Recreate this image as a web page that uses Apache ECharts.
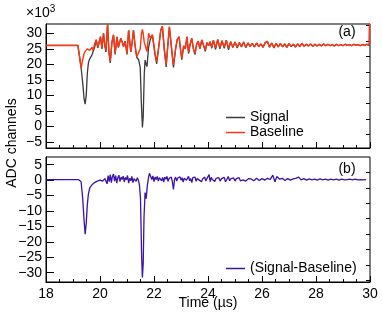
<!DOCTYPE html>
<html><head><meta charset="utf-8">
<script src="https://cdn.jsdelivr.net/npm/echarts@6/dist/echarts.min.js"></script>
<style>html,body{margin:0;padding:0;background:#fff}#c{width:382px;height:313px}</style>
</head><body><div id="c"></div>
<script>
// ---- data ----
const timeTop = [18.00,19.18,19.25,19.30,19.36,19.41,19.45,19.49,19.53,19.57,19.62,19.70,19.74,19.80,19.86,19.92,19.97,20.02,20.07,20.13,20.18,20.22,20.28,20.33,20.38,20.44,20.50,20.56,20.63,20.68,20.72,20.77,20.83,20.87,20.93,21.00,21.06,21.14,21.19,21.24,21.30,21.36,21.43,21.49,21.53,21.57,21.60,21.64,21.67,21.71,21.74,21.80,21.86,21.94,22.04,22.10,22.18,22.25,22.31,22.38,22.45,22.51,22.57,22.64,22.72,22.80,22.86,22.93,22.98,23.03,23.10,23.16,23.22,23.28,23.34,23.40,23.46,23.52,23.58,23.64,23.70,23.77,23.84,23.90,23.96,24.02,24.08,24.14,24.20,24.28,24.36,24.44,24.52,24.60,24.68,24.76,24.84,24.92,25.00,25.08,25.16,25.24,25.32,25.40,25.48,25.56,25.64,25.72,25.80,25.88,25.96,26.04,26.12,26.20,26.28,26.36,26.44,26.52,26.60,26.68,26.76,26.84,26.92,27.00,27.08,27.16,27.24,27.32,27.40,27.48,27.56,27.64,27.72,27.80,27.88,27.96,28.04,28.12,28.20,28.28,28.36,28.44,28.52,28.60,28.68,28.76,28.84,28.92,29.00,29.08,29.16,29.24,29.32,29.40,29.48,29.56,29.64,29.72,29.80,29.88,29.96,30.00];
const baseline = [26.1,26.1,22.0,18.8,21.5,23.5,24.2,24.6,25.0,25.2,24.5,25.5,24.5,26.5,28.0,25.5,25.2,28.9,25.2,30.0,26.0,24.5,33.0,24.0,21.0,27.0,29.5,23.6,28.9,25.5,25.2,28.4,27.0,25.7,27.5,23.6,31.0,24.1,27.0,31.0,26.0,22.5,22.0,25.0,29.5,31.3,30.0,27.0,26.3,25.0,24.1,30.0,28.5,29.5,23.6,20.8,26.0,31.0,32.3,25.0,19.8,26.0,32.1,26.0,19.8,25.0,28.0,28.9,25.0,22.0,26.0,25.0,28.9,24.1,26.5,28.4,25.0,23.6,26.5,27.5,25.0,27.9,26.0,24.6,27.0,26.0,27.3,25.5,27.8,25.3,28.0,25.4,27.6,25.6,27.8,25.2,27.3,25.6,27.2,25.5,27.0,25.8,27.2,25.5,26.9,25.8,26.8,25.6,26.9,25.7,26.6,25.5,27.0,27.4,25.6,26.9,25.4,26.8,25.6,26.7,25.7,26.6,25.5,26.7,25.8,26.5,25.6,26.6,25.7,26.8,25.8,26.5,25.9,26.6,25.8,26.5,25.9,26.5,25.9,26.6,26.0,26.5,26.0,26.4,25.9,26.5,26.0,26.4,26.0,26.5,26.1,26.4,26.0,26.5,26.1,26.4,26.0,26.4,26.1,26.5,26.1,40.0];
const signal = [26.1,26.1,22.0,19.0,14.0,9.0,7.2,10.0,17.0,20.5,21.8,23.0,24.0,25.5,27.8,25.3,25.0,28.9,25.0,30.0,26.0,24.0,33.0,24.0,20.5,27.0,29.5,23.2,28.9,25.5,25.0,28.4,27.0,25.7,27.5,23.2,31.0,24.0,27.0,31.0,26.0,22.3,21.5,19.0,8.0,-0.3,3.0,17.0,21.4,20.0,19.3,25.5,28.0,29.5,23.0,20.2,26.0,31.0,32.3,25.0,19.2,26.0,32.1,26.0,19.0,25.0,28.0,28.9,25.0,21.5,26.0,25.0,28.9,23.5,26.5,28.4,25.0,23.2,26.5,27.5,25.0,27.9,26.0,24.2,27.0,26.0,27.3,25.2,27.8,24.8,28.0,25.0,27.6,25.2,27.8,24.7,27.3,25.4,27.2,25.3,27.0,25.6,27.2,25.4,26.9,25.8,26.8,25.6,26.9,25.7,26.6,25.5,27.0,27.4,25.5,26.9,25.3,26.8,25.6,26.7,25.6,26.6,25.5,26.7,25.7,26.5,25.6,26.6,25.7,26.8,25.8,26.5,25.9,26.6,25.8,26.5,25.9,26.5,25.9,26.6,26.0,26.5,26.0,26.4,25.9,26.5,26.0,26.4,26.0,26.5,26.1,26.4,26.0,26.5,26.1,26.4,26.0,26.4,26.1,26.5,26.1,26.2];

const timeBottom = [18.00,19.20,19.26,19.30,19.36,19.41,19.45,19.49,19.53,19.57,19.62,19.70,19.80,19.90,20.00,20.10,20.18,20.22,20.26,20.30,20.34,20.38,20.42,20.46,20.50,20.54,20.58,20.62,20.66,20.70,20.74,20.78,20.82,20.86,20.90,20.94,20.98,21.02,21.06,21.10,21.14,21.18,21.22,21.26,21.30,21.34,21.38,21.42,21.46,21.50,21.54,21.57,21.60,21.63,21.67,21.71,21.75,21.79,21.83,21.88,21.92,21.96,22.00,22.04,22.08,22.12,22.16,22.20,22.24,22.28,22.32,22.36,22.40,22.44,22.48,22.52,22.56,22.60,22.64,22.68,22.72,22.76,22.80,22.84,22.88,22.92,22.96,23.00,23.04,23.08,23.12,23.16,23.20,23.24,23.28,23.32,23.36,23.40,23.44,23.48,23.52,23.56,23.60,23.64,23.68,23.72,23.76,23.80,23.84,23.88,23.92,23.96,24.00,24.04,24.08,24.12,24.16,24.20,24.25,24.30,24.35,24.40,24.45,24.50,24.55,24.60,24.65,24.70,24.75,24.80,24.85,24.90,24.95,25.00,25.05,25.10,25.15,25.20,25.25,25.30,25.35,25.40,25.45,25.50,25.55,25.60,25.70,25.80,25.90,26.00,26.10,26.20,26.30,26.40,26.48,26.55,26.65,26.75,26.85,26.95,27.05,27.15,27.25,27.35,27.45,27.55,27.65,27.75,27.85,27.95,28.05,28.15,28.25,28.35,28.45,28.55,28.65,28.75,28.85,28.95,29.05,29.15,29.25,29.35,29.45,29.55,29.65,29.75,29.85,29.95,30.00];
const difference = [0.2,0.2,-0.2,-0.5,-6,-13,-17.5,-14,-8,-4.5,-2.5,-1.5,-0.8,-0.3,0,-0.3,0.5,1,-1.2,1.5,-0.5,1.8,-0.8,1.2,2,-0.3,1.5,-1,0.8,1.6,-0.5,1,0.2,1.3,-0.6,0.9,0.1,1.5,-1,0.6,-0.2,1.2,-0.8,0.5,1,-0.4,0.8,0,-1.5,-6,-24,-31.5,-27,-12,-4,-6,-2,0.5,2.2,2.5,0.2,1.4,-0.5,1,0.2,1.2,-0.3,0.8,1.3,-0.2,0.9,-0.6,1,0.3,1.2,-0.4,0.6,0.2,1,-0.5,-3,0.2,1,-0.3,0.7,0.4,1.1,0,0.8,-0.6,0.6,1,0,0.5,1.2,-0.2,0.5,-0.8,0.8,0.3,1,-0.4,0.5,0.8,0,0.6,-0.5,0.4,0.1,1,-0.3,0.5,0.2,1.8,-0.5,0.9,0.2,0.7,-0.4,0.6,0,0.8,-0.3,0.5,0.2,0.9,-0.5,0.3,1.2,-0.2,0.5,0,0.7,-0.3,0.5,0.2,0.8,-0.2,0.4,0.1,0.6,-0.3,0.3,0.5,0,0.4,-0.2,0.6,-0.1,0.5,0,0.6,0.2,1.6,-0.5,1.2,0.3,0.6,-0.1,0.5,0,0.4,0.6,1,0.1,0.5,0,0.4,0.1,0.3,0,0.4,0.1,0.3,0,0.3,0.1,0.3,0,0.3,0.1,0.2,0.3,0.1,0.3,0.1,0.2,0.1,0.2];

const xTicks = [18,20,22,24,26,28,30];
const yTopLabels = [30,25,20,15,10,5,0,-5];
const yTopMinor = [32.5,27.5,22.5,17.5,12.5,7.5,2.5,-2.5];
const yBotLabels = [5,0,-5,-10,-15,-20,-25,-30];
const yBotMinor = [2.5,-2.5,-7.5,-12.5,-17.5,-22.5,-27.5,-32.5];

// ---- chart ----
const FONT = 'Liberation Sans, Arial, sans-serif';
const fmt = v => String(v).replace('-', '\u2212');
const chart = echarts.init(document.getElementById('c'), null, {renderer:'canvas'});
const pair = (t, v) => t.map((x, i) => [x, v[i]]);

function xAxis(grid, labels) {
  return {type:'value', gridIndex:grid, min:xTicks[0], max:xTicks[xTicks.length-1], interval:2,
    axisLine:{show:true, onZero:false, lineStyle:{color:'#000', width:1}},
    axisTick:{show:true, inside:true, length:6, lineStyle:{color:'#000'}},
    minorTick:{show:true, splitNumber:4, length:3, lineStyle:{color:'#000'}},
    splitLine:{show:false}, minorSplitLine:{show:false},
    axisLabel:{show:labels, color:'#000', fontSize:14, fontFamily:FONT, margin:5}};
}
function yMain(grid, min, max, labels) {
  return {type:'value', gridIndex:grid, min:min, max:max,
    axisLine:{show:true, onZero:false, lineStyle:{color:'#000', width:1}},
    axisTick:{show:true, inside:true, length:8, customValues:labels, lineStyle:{color:'#000'}},
    splitLine:{show:false},
    axisLabel:{show:true, customValues:labels, formatter:fmt, color:'#000', fontSize:14, fontFamily:FONT, margin:4}};
}
function yMinor(grid, min, max, vals) {
  return {type:'value', gridIndex:grid, min:min, max:max,
    axisLine:{show:false, onZero:false},
    axisTick:{show:true, inside:true, length:4, customValues:vals, lineStyle:{color:'#000'}},
    splitLine:{show:false}, axisLabel:{show:false}};
}
const legendText = {fontSize:14, fontFamily:FONT, color:'#000'};

chart.setOption({
  animation:false,
  grid:[
    {left:46, top:24, width:324, height:124, show:true, borderColor:'#000', borderWidth:1, backgroundColor:'transparent'},
    {left:46, top:157, width:324, height:125, show:true, borderColor:'#000', borderWidth:1, backgroundColor:'transparent'}
  ],
  xAxis:[xAxis(0,false), xAxis(1,true)],
  yAxis:[yMain(0,-6.9,33,yTopLabels), yMinor(0,-6.9,33,yTopMinor),
         yMain(1,-33,7.5,yBotLabels), yMinor(1,-33,7.5,yBotMinor)],
  legend:[
    {data:[{name:'Signal', icon:'rect'},{name:'Baseline', icon:'rect'}], orient:'vertical', left:226, top:110, padding:0,
     itemWidth:19, itemHeight:1.5, itemGap:0, textStyle:Object.assign({lineHeight:15}, legendText)},
    {data:[{name:'(Signal-Baseline)', icon:'rect'}], orient:'vertical', left:226, top:261, padding:0,
     itemWidth:19, itemHeight:1.5, textStyle:Object.assign({lineHeight:15}, legendText)}
  ],
  series:[
    {name:'Signal', type:'line', xAxisIndex:0, yAxisIndex:0, data:pair(timeTop, signal), symbol:'none',
     lineStyle:{color:'#3a3a3a', width:1.3}, itemStyle:{color:'#3a3a3a'}},
    {name:'Baseline', type:'line', xAxisIndex:0, yAxisIndex:0, data:pair(timeTop, baseline), symbol:'none',
     lineStyle:{color:'#ff3511', width:1.4}, itemStyle:{color:'#ff3511'}},
    {name:'(Signal-Baseline)', type:'line', xAxisIndex:1, yAxisIndex:2, data:pair(timeBottom, difference), symbol:'none',
     lineStyle:{color:'#3c12a8', width:1.3}, itemStyle:{color:'#3c12a8'}}
  ],
  graphic:[
    {type:'text', left:26, top:4, style:{text:'{a|\u00d710}{s|3}', rich:{a:{fontSize:14, fontFamily:FONT, fill:'#000', verticalAlign:'bottom'}, s:{fontSize:10, fontFamily:FONT, fill:'#000', verticalAlign:'top', padding:[0,0,6,0]}}}},
    {type:'text', x:347, y:32, style:{text:'(a)', fontSize:14, fontFamily:FONT, fill:'#000', align:'center', verticalAlign:'middle'}},
    {type:'text', x:347, y:169, style:{text:'(b)', fontSize:14, fontFamily:FONT, fill:'#000', align:'center', verticalAlign:'middle'}},
    {type:'text', x:208, y:303, style:{text:'Time (\u00b5s)', fontSize:14, fontFamily:FONT, fill:'#000', align:'center', verticalAlign:'middle'}},
    {type:'text', x:12, y:143, rotation:Math.PI/2, style:{text:'ADC channels', fontSize:14, fontFamily:FONT, fill:'#000', align:'center', verticalAlign:'middle'}}
  ]
});
</script></body></html>
